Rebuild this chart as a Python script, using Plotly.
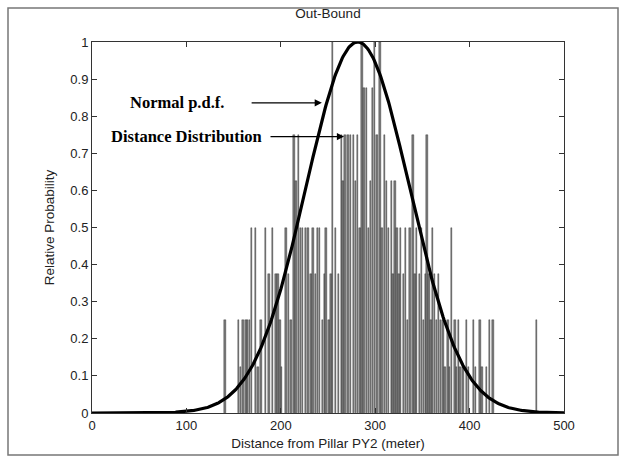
import numpy as np
import plotly.graph_objects as go

# Distance distribution (bar positions in metres, relative heights)
bar_x = [141, 155, 157.5, 160, 163, 165, 167, 169, 173, 176, 179, 184, 187.5, 191, 195, 197, 199, 201,
         205.5, 208, 211, 214, 216, 219, 221, 223, 226, 229, 232, 234, 237, 239, 241, 244, 246, 248,
         251, 253, 255, 258, 261, 264, 266, 268, 271, 274, 277, 279, 281, 284, 286, 288, 291, 293,
         295, 297, 299, 302, 305, 307, 310, 312, 314, 317, 319, 321, 323, 325, 327, 330, 332, 334,
         337, 340, 342, 344, 347, 349, 351, 353, 355, 357, 359, 361, 363, 365, 367, 369, 372, 374,
         377, 379, 381, 384.5, 386, 388, 390, 393, 397, 399, 404, 406, 411, 413, 418, 421, 425, 471]
bar_h = [0.25, 0.25, 0.125, 0.25, 0.25, 0.25, 0.25, 0.5, 0.5, 0.125, 0.25, 0.5, 0.375, 0.5, 0.375, 0.375, 0.25, 0.125,
         0.5, 0.375, 0.25, 0.75, 0.625, 0.75, 0.5, 0.5, 0.5, 0.5, 0.375, 0.5, 0.375, 0.5, 0.5, 0.25, 0.375, 0.5,
         0.25, 0.375, 1.0, 0.5, 0.375, 0.75, 0.625, 0.75, 0.75, 0.75, 0.75, 0.625, 0.75, 0.5, 1.0, 0.875, 0.875, 0.5,
         0.625, 0.875, 1.0, 0.75, 1.0, 0.5, 0.75, 0.625, 0.5, 0.625, 0.375, 0.625, 0.5, 0.375, 0.5, 0.375, 0.5, 0.25,
         0.5, 0.75, 0.375, 0.5, 0.375, 0.5, 0.25, 0.375, 0.75, 0.375, 0.25, 0.5, 0.375, 0.25, 0.375, 0.25, 0.25, 0.125,
         0.25, 0.125, 0.5, 0.25, 0.125, 0.25, 0.125, 0.125, 0.25, 0.125, 0.25, 0.125, 0.25, 0.125, 0.125, 0.25, 0.25, 0.25]

# Fitted normal p.d.f. parameters (scaled to a peak of 1)
MU = 281.5
SIGMA = 55.0

x_ticks = [0, 100, 200, 300, 400, 500]
y_ticks = [0, 0.1, 0.2, 0.3, 0.4, 0.5, 0.6, 0.7, 0.8, 0.9, 1]
y_tick_text = ["0", "0.1", "0.2", "0.3", "0.4", "0.5", "0.6", "0.7", "0.8", "0.9", "1"]

curve_x = np.linspace(0, 500, 501)
curve_y = np.exp(-((curve_x - MU) ** 2) / (2 * SIGMA ** 2))

fig = go.Figure()
fig.add_trace(go.Bar(x=bar_x, y=bar_h, width=1.5,
                     marker=dict(color="#7a7a7a", line=dict(color="#2a2a2a", width=0.4)),
                     showlegend=False))
fig.add_trace(go.Scatter(x=curve_x, y=curve_y, mode="lines",
                         line=dict(color="black", width=3.2), showlegend=False))

font = dict(family="Liberation Sans, Arial", size=13, color="#222")
tfont = dict(family="Liberation Sans, Arial", size=13.5, color="#222")
axis_common = dict(showline=True, linecolor="#333", linewidth=1, mirror="ticks",
                   ticks="inside", ticklen=5, tickcolor="#333", showgrid=False,
                   zeroline=False, tickfont=font)
fig.update_xaxes(range=[0, 500], tickvals=x_ticks, **axis_common,
                 title=dict(text="Distance from Pillar PY2 (meter)", font=tfont, standoff=6))
fig.update_yaxes(range=[0, 1], tickvals=y_ticks, ticktext=y_tick_text, **axis_common,
                 title=dict(text="Relative Probability", font=tfont, standoff=12))

serif = dict(family="Liberation Serif, Times New Roman", size=16.5, color="black")
fig.add_annotation(x=243.5, y=0.836, ax=167.5, ay=0.836, xref="x", yref="y", axref="x", ayref="y",
                   showarrow=True, arrowhead=2, arrowsize=1.2, arrowwidth=1.2, arrowcolor="black", text="")
fig.add_annotation(x=267, y=0.745, ax=187.5, ay=0.745, xref="x", yref="y", axref="x", ayref="y",
                   showarrow=True, arrowhead=2, arrowsize=1.2, arrowwidth=1.2, arrowcolor="black", text="")
fig.add_annotation(x=142, y=0.836, xref="x", yref="y", xanchor="right", yanchor="middle",
                   showarrow=False, text="<b>Normal p.d.f.</b>", font=serif)
fig.add_annotation(x=182, y=0.745, xref="x", yref="y", xanchor="right", yanchor="middle",
                   showarrow=False, text="<b>Distance Distribution</b>", font=serif)

# outer picture frame
fig.add_shape(type="rect", xref="paper", yref="paper",
              x0=-84/472, x1=1+54/472, y0=-42/371, y1=1+34/371,
              line=dict(color="#777", width=1.5), fillcolor="rgba(0,0,0,0)", layer="below")

fig.update_layout(
    width=626, height=464,
    margin=dict(l=92, r=62, t=42, b=51),
    paper_bgcolor="white", plot_bgcolor="white",
    bargap=0,
    title=dict(text="Out-Bound", x=(328 - 92) / 472, xref="paper", xanchor="center",
               y=1 - 13 / 464, yanchor="middle", font=tfont),
)

fig.write_html("out.html")
